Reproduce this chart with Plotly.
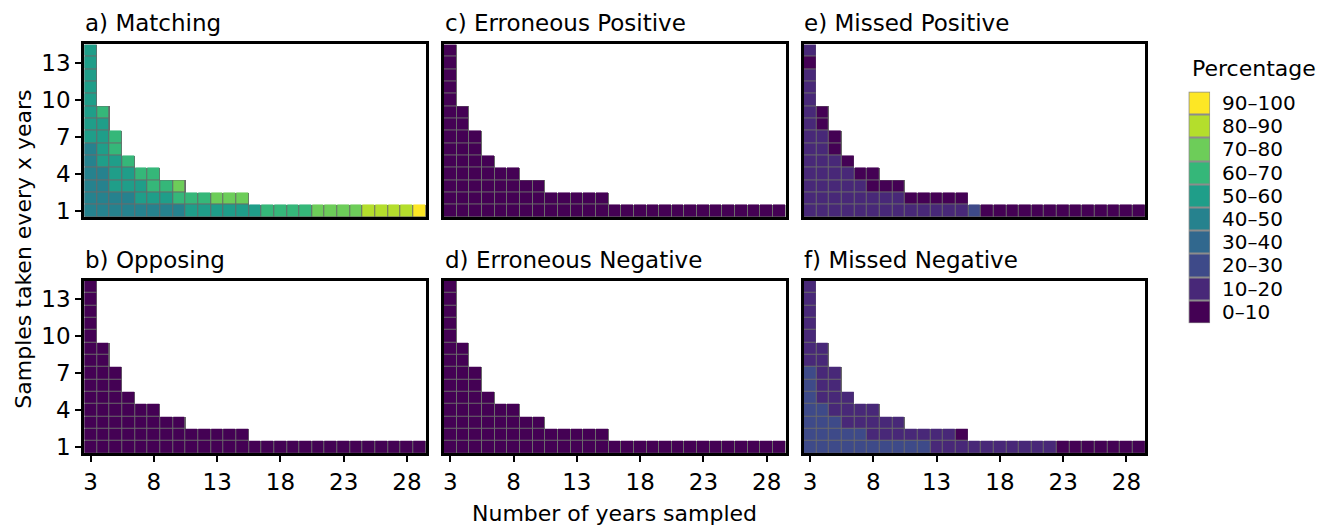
import plotly.graph_objects as go

W, H = 1330, 528
FONT = "DejaVu Sans"

# ---------------- data ----------------
years = [3, 4, 5, 6, 7, 8, 9, 10, 11, 12, 13, 14, 15, 16, 17, 18, 19, 20,
         21, 22, 23, 24, 25, 26, 27, 28, 29]          # Number of years sampled
intervals = [1, 2, 3, 4, 5, 6, 7, 8, 9, 10, 11, 12, 13, 14]  # Samples taken every x years
x_ticks = [3, 8, 13, 18, 23, 28]
y_ticks = [1, 4, 7, 10, 13]

# rows = interval 1..14, values for years 3.. (percentage, estimated bin midpoints)
matching = [
    [45, 45, 45, 45, 45, 45, 45, 45, 55, 55, 55, 55, 55, 55, 65, 65, 65, 65, 75, 75, 75, 75, 85, 85, 85, 85, 95],
    [45, 45, 45, 45, 55, 55, 55, 65, 65, 65, 75, 75, 75],
    [45, 45, 55, 55, 55, 65, 65, 75],
    [45, 45, 55, 55, 65, 65],
    [45, 55, 55, 65],
    [45, 55, 65],
    [55, 55, 65],
    [55, 55],
    [55, 65],
    [55], [55], [55], [55], [55],
]
opposing = [
    [5, 5, 5, 5, 5, 5, 5, 5, 5, 5, 5, 5, 5, 5, 5, 5, 5, 5, 5, 5, 5, 5, 5, 5, 5, 5, 5],
    [5, 5, 5, 5, 5, 5, 5, 5, 5, 5, 5, 5, 5],
    [5, 5, 5, 5, 5, 5, 5, 5],
    [5, 5, 5, 5, 5, 5],
    [5, 5, 5, 5],
    [5, 5, 5],
    [5, 5, 5],
    [5, 5],
    [5, 5],
    [5], [5], [5], [5], [5],
]
erroneous_positive = [
    [5, 5, 5, 5, 5, 5, 5, 5, 5, 5, 5, 5, 5, 5, 5, 5, 5, 5, 5, 5, 5, 5, 5, 5, 5, 5, 5],
    [5, 5, 5, 5, 5, 5, 5, 5, 5, 5, 5, 5, 5],
    [5, 5, 5, 5, 5, 5, 5, 5],
    [5, 5, 5, 5, 5, 5],
    [5, 5, 5, 5],
    [5, 5, 5],
    [5, 5, 5],
    [5, 5],
    [5, 5],
    [5], [5], [5], [5], [5],
]
erroneous_negative = [
    [5, 5, 5, 5, 5, 5, 5, 5, 5, 5, 5, 5, 5, 5, 5, 5, 5, 5, 5, 5, 5, 5, 5, 5, 5, 5, 5],
    [5, 5, 5, 5, 5, 5, 5, 5, 5, 5, 5, 5, 5],
    [5, 5, 5, 5, 5, 5, 5, 5],
    [5, 5, 5, 5, 5, 5],
    [5, 5, 5, 5],
    [5, 5, 5],
    [5, 5, 5],
    [5, 5],
    [5, 5],
    [5], [5], [5], [5], [5],
]
missed_positive = [
    [15, 15, 15, 15, 15, 15, 15, 15, 15, 15, 15, 15, 15, 25, 5, 5, 5, 5, 5, 5, 5, 5, 5, 5, 5, 5, 5],
    [15, 15, 15, 15, 15, 15, 15, 15, 5, 5, 5, 5, 5],
    [15, 15, 15, 15, 15, 5, 5, 5],
    [15, 15, 15, 15, 5, 5],
    [15, 15, 15, 5],
    [15, 15, 5],
    [15, 15, 5],
    [15, 5],
    [15, 5],
    [15], [15], [15], [5], [15],
]
missed_negative = [
    [25, 25, 25, 25, 25, 25, 25, 25, 25, 25, 15, 15, 15, 15, 15, 15, 15, 15, 15, 15, 5, 5, 5, 5, 5, 5, 5],
    [25, 25, 25, 25, 25, 15, 15, 15, 15, 15, 15, 15, 5],
    [25, 25, 25, 15, 15, 15, 15, 15],
    [25, 25, 15, 15, 15, 15],
    [25, 15, 15, 15],
    [25, 15, 15],
    [25, 15, 15],
    [15, 15],
    [15, 15],
    [15], [15], [15], [15], [15],
]

panel_titles = ["a) Matching", "c) Erroneous Positive", "e) Missed Positive",
                "b) Opposing", "d) Erroneous Negative", "f) Missed Negative"]
panel_data = [matching, erroneous_positive, missed_positive,
              opposing, erroneous_negative, missed_negative]

bin_labels = ["0–10", "10–20", "20–30", "30–40", "40–50",
              "50–60", "60–70", "70–80", "80–90", "90–100"]
bin_values = [5, 15, 25, 35, 45, 55, 65, 75, 85, 95]
viridis10 = ["#440154", "#482878", "#3E4A89", "#31688E", "#26828E",
             "#1F9E89", "#35B779", "#6DCD59", "#B4DE2C", "#FDE725"]

# ---------------- styling ----------------
colorscale = []
for i, c in enumerate(viridis10):
    colorscale.append([i / 10, c])
    colorscale.append([(i + 1) / 10, c])
gray_scale = [[0, "#6a6a6a"], [1, "#6a6a6a"]]
legend_gray = [[0, "#8c8c8c"], [1, "#8c8c8c"]]

col_px = [(83.3, 425.3), (443.3, 785.3), (803.3, 1145.3)]
row_px = [(45.0, 220.0), (284.5, 459.5)]


def xdom(a, b):
    return [a / W, b / W]


def ydom(top, bottom):
    return [1 - bottom / H, 1 - top / H]


def to_grid(rows):
    grid = []
    for row in rows:
        grid.append([row[i] if i < len(row) else None for i in range(len(years))])
    return grid


fig = go.Figure()
layout = dict(
    width=W, height=H, autosize=False,
    margin=dict(l=0, r=0, t=0, b=0),
    paper_bgcolor="white", plot_bgcolor="white",
    font=dict(family=FONT, size=23, color="black"),
    showlegend=False,
    annotations=[],
)

for k, (title, rows) in enumerate(zip(panel_titles, panel_data)):
    r, c = divmod(k, 3)
    ax = k + 1
    xa = "x" if ax == 1 else f"x{ax}"
    ya = "y" if ax == 1 else f"y{ax}"
    grid = to_grid(rows)
    under = [[1 if v is not None else None for v in row] for row in grid]
    fig.add_trace(go.Heatmap(x=years, y=intervals, z=under, colorscale=gray_scale,
                             showscale=False, hoverinfo="skip", xaxis=xa, yaxis=ya))
    fig.add_trace(go.Heatmap(x=years, y=intervals, z=grid, colorscale=colorscale,
                             zmin=0, zmax=100, showscale=False, xgap=1, ygap=1,
                             xaxis=xa, yaxis=ya,
                             hovertemplate="years %{x}<br>every %{y}<br>%{z}%<extra></extra>"))
    bottom = (r == 1)
    left = (c == 0)
    layout[f"xaxis{'' if ax == 1 else ax}"] = dict(
        domain=xdom(*col_px[c]), range=[2.5, 29.5], anchor=ya,
        showline=True, linecolor="black", linewidth=3, mirror=True,
        showgrid=False, zeroline=False,
        tickvals=x_ticks, showticklabels=bottom,
        ticks="outside" if bottom else "", ticklen=6, tickwidth=2, tickcolor="black",
        tickfont=dict(family=FONT, size=23, color="black"),
    )
    layout[f"yaxis{'' if ax == 1 else ax}"] = dict(
        domain=ydom(*row_px[r]), range=[0.5, 14.5], anchor=xa,
        showline=True, linecolor="black", linewidth=3, mirror=True,
        showgrid=False, zeroline=False,
        tickvals=y_ticks, showticklabels=left,
        ticks="outside" if left else "", ticklen=6, tickwidth=2, tickcolor="black",
        tickfont=dict(family=FONT, size=23, color="black"),
    )
    top_px = row_px[r][0]
    layout["annotations"].append(dict(
        text=title, xref="paper", yref="paper",
        x=col_px[c][0] / W - 0.001, y=1 - (top_px - 21.3) / H,
        xanchor="left", yanchor="middle", showarrow=False,
        font=dict(family=FONT, size=23, color="black"),
    ))

# ---------------- legend (discrete key) ----------------
fig.add_trace(go.Heatmap(x=[0], y=bin_labels, z=[[1] for _ in bin_labels],
                         colorscale=legend_gray, showscale=False, hoverinfo="skip",
                         xaxis="x7", yaxis="y7"))
fig.add_trace(go.Heatmap(x=[0], y=bin_labels, z=[[v] for v in bin_values],
                         colorscale=colorscale, zmin=0, zmax=100, showscale=False,
                         xgap=2, ygap=2, hoverinfo="skip", xaxis="x7", yaxis="y7"))
layout["xaxis7"] = dict(domain=xdom(1188.3, 1210.0), anchor="y7", range=[-0.5, 0.5],
                        showline=False, showgrid=False, zeroline=False,
                        showticklabels=False, ticks="")
layout["yaxis7"] = dict(domain=ydom(92.7, 327.7), anchor="x7", side="right",
                        type="category", range=[-0.5, 9.5],
                        tickmode="array", tickvals=bin_labels, ticktext=bin_labels,
                        showline=False, showgrid=False, zeroline=False, ticks="",
                        ticklabelstandoff=11,
                        tickfont=dict(family=FONT, size=20, color="black"))
layout["annotations"].append(dict(
    text="Percentage", xref="paper", yref="paper", x=1189.5 / W, y=1 - 69 / H,
    xanchor="left", yanchor="middle", showarrow=False,
    font=dict(family=FONT, size=22, color="black")))

# ---------------- axis titles ----------------
layout["annotations"].append(dict(
    text="Number of years sampled", xref="paper", yref="paper",
    x=614 / W, y=1 - 520.5 / H, xanchor="center", yanchor="middle", showarrow=False,
    font=dict(family=FONT, size=22, color="black")))
layout["annotations"].append(dict(
    text="Samples taken every x years", xref="paper", yref="paper",
    x=23 / W, y=1 - 252 / H, xanchor="center", yanchor="middle", showarrow=False,
    textangle=-90, font=dict(family=FONT, size=22, color="black")))

fig.update_layout(**layout)
fig.write_html("out.html")
